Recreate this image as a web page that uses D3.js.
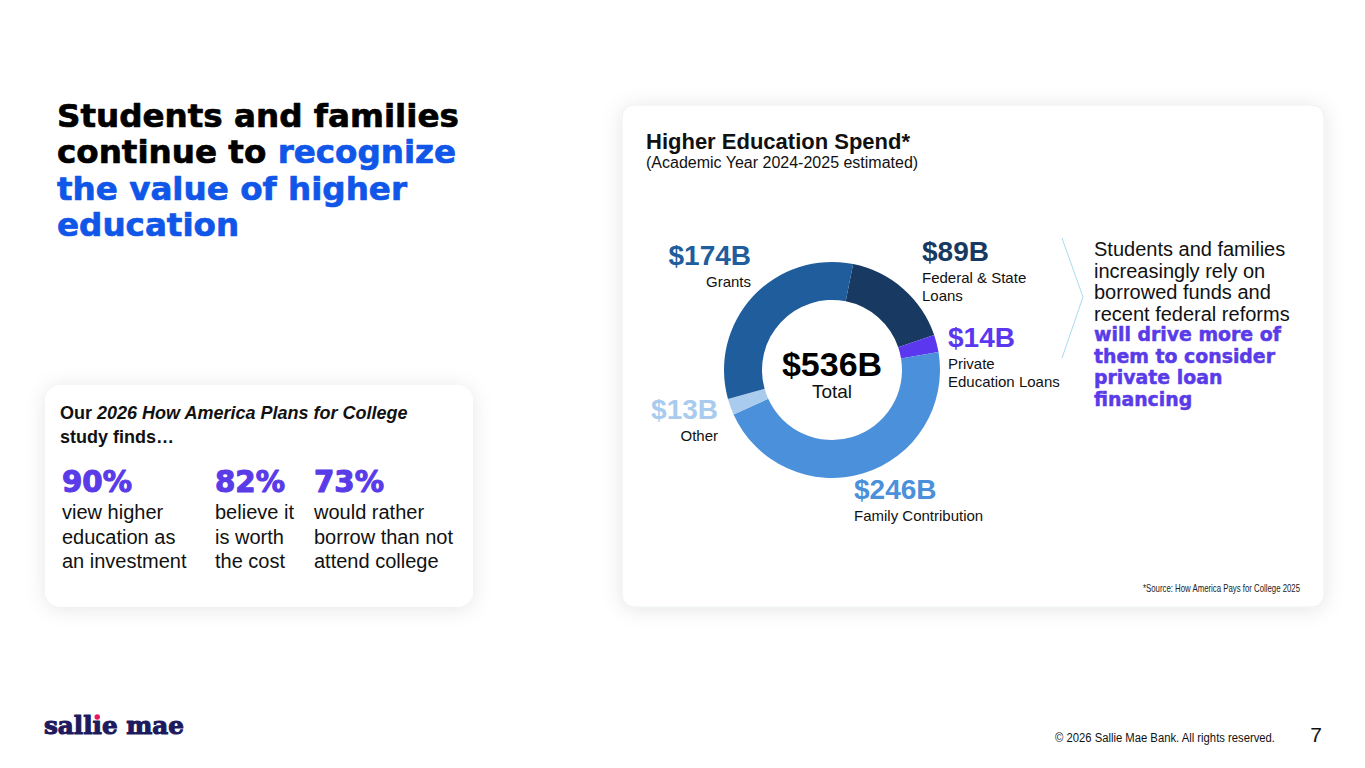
<!DOCTYPE html>
<html>
<head>
<meta charset="utf-8">
<script src="https://cdn.jsdelivr.net/npm/d3@7"></script>
<style>
  body { margin: 0; background: #fff; }
  svg { display: block; font-family: "Liberation Sans", Arial, sans-serif; }
</style>
</head>
<body>
<svg id="slide" width="1365" height="768"></svg>
<script>
// ---- data ----
const categories = ["Federal & State Loans", "Private Education Loans", "Family Contribution", "Other", "Grants"];
const values = [89, 14, 246, 13, 174];
const valueLabels = ["$89B", "$14B", "$246B", "$13B", "$174B"];
const categoryLines = [["Federal & State", "Loans"], ["Private", "Education Loans"], ["Family Contribution"], ["Other"], ["Grants"]];
const sliceColors = ["#183a62", "#5b38f0", "#4a90da", "#a9cbee", "#1f5d9c"];
const totalLabel = "$536B";
const statValues = ["90%", "82%", "73%"];
const statTexts = [
  ["view higher", "education as", "an investment"],
  ["believe it", "is worth", "the cost"],
  ["would rather", "borrow than not", "attend college"]
];
const calloutPlain = ["Students and families", "increasingly rely on", "borrowed funds and", "recent federal reforms"];
const calloutBold = ["will drive more of", "them to consider", "private loan", "financing"];

// ---- layout ----
const heavy = "'DejaVu Sans', sans-serif";
const purple = "#5a3be8";
const blue = "#1056e8";
const cx = 832, cy = 370, rOuter = 108, rInner = 70;
const startAngle = 0.197;
// label anchors relative to the donut centre
const labelPos = [
  { dx: 90, dy: -109, anchor: "start" },
  { dx: 116, dy: -23, anchor: "start" },
  { dx: 22, dy: 129, anchor: "start" },
  { dx: -114, dy: 49, anchor: "end" },
  { dx: -81, dy: -105, anchor: "end" }
];

const svg = d3.select("#slide");
const defs = svg.append("defs");
const sh = defs.append("filter").attr("id", "shadow")
  .attr("x", "-20%").attr("y", "-20%").attr("width", "140%").attr("height", "140%");
sh.append("feDropShadow").attr("dx", 0).attr("dy", 2).attr("stdDeviation", 10)
  .attr("flood-color", "#000").attr("flood-opacity", 0.1);

// fit a text element's font size so it spans a target width
function fitSize(sel, target) {
  const size = parseFloat(sel.attr("font-size"));
  const w = sel.node().getComputedTextLength();
  return size * target / w;
}

// ---- headline ----
const titleLines = [
  [["Students and families", "#000"]],
  [["continue to ", "#000"], ["recognize", blue]],
  [["the value of higher", blue]],
  [["education", blue]]
];
const titleG = svg.append("g").attr("font-family", heavy).attr("font-weight", "bold");
const tLines = titleLines.map((parts, i) => {
  const t = titleG.append("text").attr("x", 57).attr("y", 127 + i * 36.3).attr("font-size", 34)
    .attr("stroke-width", 0.7).attr("stroke-linejoin", "round");
  parts.forEach(p => t.append("tspan").text(p[0]).attr("fill", p[1]).attr("stroke", p[1]));
  return t;
});
const titleSize = fitSize(tLines[0], 402);
tLines.forEach(t => t.attr("font-size", titleSize));

// ---- left stats card ----
svg.append("rect").attr("x", 45).attr("y", 385).attr("width", 428).attr("height", 222)
  .attr("rx", 16).attr("fill", "#fff").attr("filter", "url(#shadow)");
const intro = svg.append("text").attr("x", 60).attr("y", 419).attr("font-size", 18)
  .attr("font-weight", "bold").attr("fill", "#111");
intro.append("tspan").text("Our ");
intro.append("tspan").text("2026 How America Plans for College").attr("font-style", "italic");
svg.append("text").attr("x", 60).attr("y", 443).attr("font-size", 18)
  .attr("font-weight", "bold").attr("fill", "#111").text("study finds…");

const statLeft = [62, 215, 314];
let statSize = null;
statValues.forEach((v, i) => {
  const t = svg.append("text").attr("x", statLeft[i]).attr("y", 492)
    .attr("font-family", heavy).attr("font-weight", "bold").attr("font-size", 28)
    .attr("fill", purple).attr("stroke", purple).attr("stroke-width", 1.1)
    .attr("stroke-linejoin", "round").text(v);
  if (statSize === null) statSize = fitSize(t, 70);
  t.attr("font-size", statSize);
  statTexts[i].forEach((line, j) => {
    svg.append("text").attr("x", statLeft[i]).attr("y", 519 + j * 24.5)
      .attr("font-size", 20).attr("fill", "#111").text(line);
  });
});

// ---- right chart card ----
svg.append("rect").attr("x", 622).attr("y", 105).attr("width", 702).attr("height", 502)
  .attr("rx", 12).attr("fill", "#fff").attr("stroke", "#eceff2").attr("filter", "url(#shadow)");
svg.append("text").attr("x", 646).attr("y", 149).attr("font-size", 22)
  .attr("font-weight", "bold").attr("fill", "#111").text("Higher Education Spend*");
svg.append("text").attr("x", 646).attr("y", 168).attr("font-size", 16)
  .attr("fill", "#111").text("(Academic Year 2024-2025 estimated)");

const pie = d3.pie().sort(null).value(d => d)
  .startAngle(startAngle).endAngle(startAngle + 2 * Math.PI);
const arc = d3.arc().innerRadius(rInner).outerRadius(rOuter);
const donut = svg.append("g").attr("transform", `translate(${cx},${cy})`);
donut.selectAll("path").data(pie(values)).join("path")
  .attr("d", arc).attr("fill", (d, i) => sliceColors[i]);

donut.append("text").attr("text-anchor", "middle").attr("y", 6).attr("font-size", 34)
  .attr("font-weight", "bold").attr("fill", "#000").text(totalLabel);
donut.append("text").attr("text-anchor", "middle").attr("y", 28).attr("font-size", 19)
  .attr("fill", "#111").text("Total");

categories.forEach((c, i) => {
  const p = labelPos[i];
  const g = donut.append("g").attr("text-anchor", p.anchor);
  g.append("text").attr("x", p.dx).attr("y", p.dy).attr("font-size", 28)
    .attr("font-weight", "bold").attr("fill", sliceColors[i]).text(valueLabels[i]);
  categoryLines[i].forEach((line, j) => {
    g.append("text").attr("x", p.dx).attr("y", p.dy + 22 + j * 18)
      .attr("font-size", 15).attr("fill", "#111").text(line);
  });
});

// chevron divider
svg.append("path").attr("d", "M1062,238 L1083,297 L1062,358")
  .attr("fill", "none").attr("stroke", "#a8dbee").attr("stroke-width", 1);

calloutPlain.forEach((line, i) => {
  svg.append("text").attr("x", 1094).attr("y", 256 + i * 21.7).attr("font-size", 20)
    .attr("fill", "#111").text(line);
});
let boldSize = null;
calloutBold.forEach((line, i) => {
  const t = svg.append("text").attr("x", 1094).attr("y", 341 + i * 21.5)
    .attr("font-family", heavy).attr("font-weight", "bold").attr("font-size", 18)
    .attr("fill", purple).attr("stroke", purple).attr("stroke-width", 0.5)
    .attr("stroke-linejoin", "round").text(line);
  if (boldSize === null) boldSize = fitSize(t, 187);
  t.attr("font-size", boldSize);
});

svg.append("text").attr("x", 1300).attr("y", 592).attr("text-anchor", "end")
  .attr("font-size", 11).attr("fill", "#222").attr("textLength", 157)
  .attr("lengthAdjust", "spacingAndGlyphs").text("*Source: How America Pays for College 2025");

// ---- footer ----
const logo = svg.append("text").attr("x", 44).attr("y", 734)
  .attr("font-family", "'DejaVu Serif', serif").attr("font-weight", "bold")
  .attr("font-size", 24).attr("fill", "#1d1a5e").attr("stroke", "#1d1a5e")
  .attr("stroke-width", 1.1).attr("stroke-linejoin", "round").text("sall\u0131e mae");
logo.attr("font-size", fitSize(logo, 140));
const dot = logo.node().getExtentOfChar(4);
svg.append("circle").attr("cx", dot.x + dot.width / 2).attr("cy", 717).attr("r", 2.7)
  .attr("fill", "#e8185e");

svg.append("text").attr("x", 1275).attr("y", 742).attr("text-anchor", "end")
  .attr("font-size", 12).attr("fill", "#111").attr("textLength", 220)
  .attr("lengthAdjust", "spacingAndGlyphs").text("© 2026 Sallie Mae Bank. All rights reserved.");
svg.append("text").attr("x", 1322).attr("y", 742).attr("text-anchor", "end")
  .attr("font-size", 21).attr("fill", "#111").text("7");
</script>
</body>
</html>
